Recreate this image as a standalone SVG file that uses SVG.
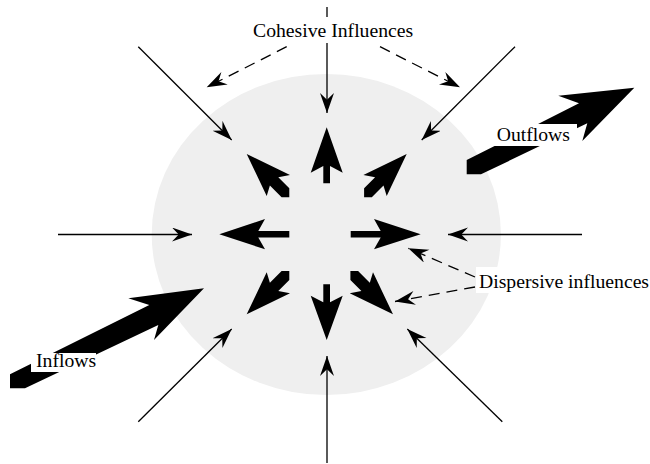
<svg xmlns="http://www.w3.org/2000/svg" width="650" height="464" viewBox="0 0 650 464">
<defs>
<marker id="ah" markerUnits="userSpaceOnUse" markerWidth="22" markerHeight="16" refX="20" refY="7" orient="auto">
<path d="M0,0 L20,7 L0,14 L6.7,7 Z" fill="#000"/>
</marker>
</defs>
<style>
.thin{stroke:#000;stroke-width:1.3;fill:none;marker-end:url(#ah)}
.dash{stroke:#000;stroke-width:1.3;fill:none;stroke-dasharray:11,7;marker-end:url(#ah)}
.big{fill:#000}
.box{fill:#fff}
.lbl{font-family:"Liberation Serif","Times New Roman",serif;font-size:19.7px;fill:#000}
</style>
<rect width="650" height="464" fill="#fff"/>
<g id="system">
<ellipse cx="326.3" cy="234.5" rx="174.6" ry="160.5" fill="#efefef"/>
</g>
<g id="connectors">
<line class="thin" x1="327" y1="7" x2="327" y2="113"/>
<line class="thin" x1="327" y1="463" x2="327" y2="356"/>
<line class="thin" x1="58" y1="234.5" x2="192" y2="234.5"/>
<line class="thin" x1="582" y1="234.5" x2="448" y2="234.5"/>
<line class="thin" x1="138.3" y1="46.7" x2="231.7" y2="140"/>
<line class="thin" x1="515" y1="46.7" x2="421.7" y2="140"/>
<line class="thin" x1="138.3" y1="421.7" x2="231.7" y2="329"/>
<line class="thin" x1="502.3" y1="421.7" x2="407.3" y2="329"/>
<line class="dash" x1="286.7" y1="46.7" x2="206.7" y2="87.3"/>
<line class="dash" x1="380" y1="46.7" x2="460" y2="87.3"/>
<line class="dash" x1="475" y1="277" x2="408.3" y2="248.3"/>
<line class="dash" x1="475" y1="287" x2="395" y2="301.5"/>
</g>
<g id="inflows-arrow">
<polygon class="big" points="204,288.3 128.3,298.3 149.3,305 10,374.3 10,388.3 25,388.3 158.3,325 154,340"/>
</g>
<g id="outflows-arrow">
<polygon class="big" points="634.3,87.7 558.3,95.7 579,103.3 466.7,160 466.7,174.3 481,174.3 587.3,123.3 582.3,141"/>
</g>
<g id="dispersive-arrows">
<polygon class="big" points="326.7,127.3 342.7,172.7 330,166 330,183.3 323.3,183.3 323.3,166 310.7,172.7"/>
<polygon class="big" points="326.7,340 342.7,295.7 330,302.3 330,284.3 323.3,284.3 323.3,302.3 310.7,295.7"/>
<polygon class="big" points="219.3,234.2 265,219 258.3,231 289.3,231 289.3,237.4 258.3,237.4 265,249.3"/>
<polygon class="big" points="420.7,234.2 374,219 380.7,231 350.7,231 350.7,237.4 380.7,237.4 374,249.3"/>
<polygon class="big" points="246.7,154 290,175 278.3,177.2 289.3,188.2 289.3,197.3 281.6,197.3 269.9,185.6 266.7,196"/>
<polygon class="big" points="406.7,154 363.4,175 375.1,177.2 364.1,188.2 364.1,197.3 371.8,197.3 383.5,185.6 386.7,196"/>
<polygon class="big" points="246.7,314.3 290,293.3 278.3,291.1 289.3,280.1 289.3,271 281.6,271 269.9,282.7 266.7,272.3"/>
<polygon class="big" points="393,314.3 349.7,293.3 361.4,291.1 350.4,280.1 350.4,271 358.1,271 369.8,282.7 373,272.3"/>
</g>
<g id="label-cohesive">
<rect class="box" x="249" y="17" width="170" height="26"/>
<text class="lbl" x="253" y="37.3">Cohesive Influences</text>
</g>
<g id="label-outflows">
<rect class="box" x="494" y="124" width="83" height="22"/>
<text class="lbl" x="496.7" y="140.5">Outflows</text>
</g>
<g id="label-inflows">
<rect class="box" x="31" y="353" width="65" height="19"/>
<text class="lbl" x="36" y="367">Inflows</text>
</g>
<g id="label-dispersive">
<rect class="box" x="476" y="267" width="174" height="26"/>
<text class="lbl" x="479" y="288.3">Dispersive influences</text>
</g>
</svg>
